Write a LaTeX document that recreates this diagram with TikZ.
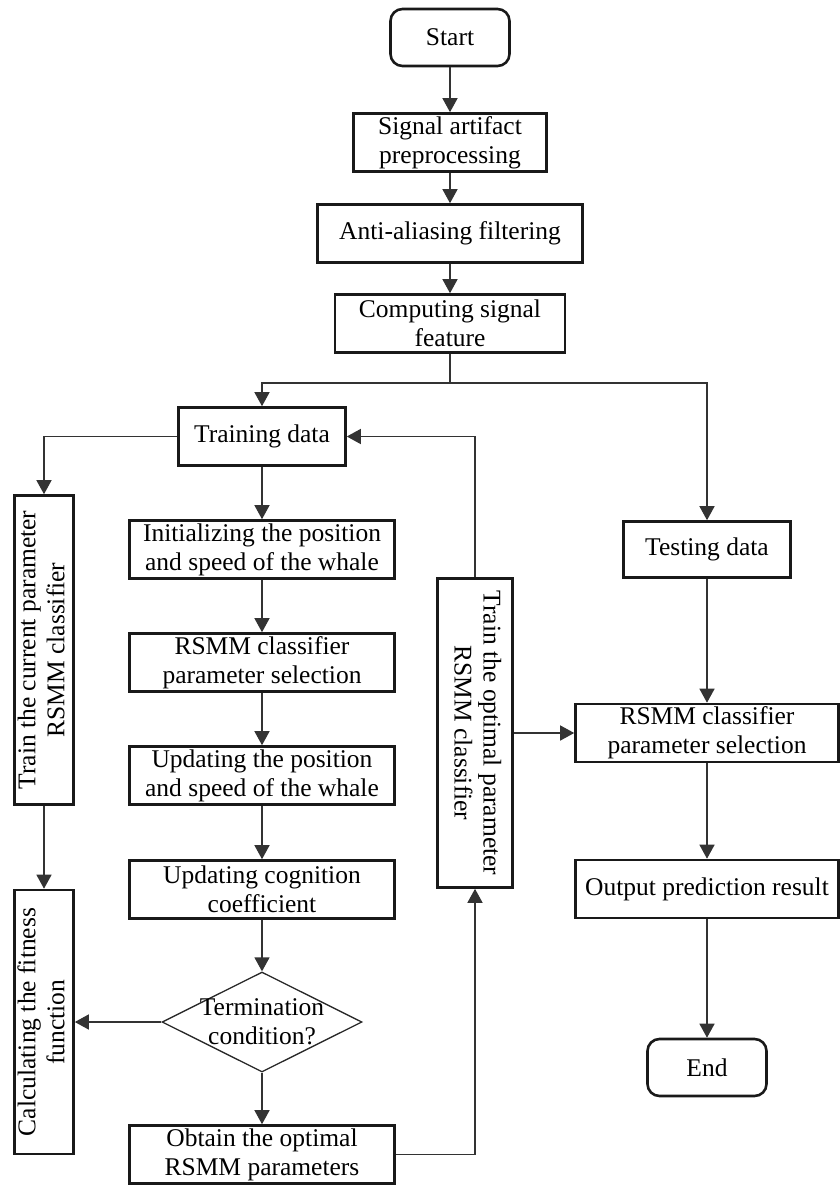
\documentclass[tikz,border=0pt]{standalone}
\usepackage{fontspec}
\setmainfont{Liberation Serif}
\usepackage{graphicx}
\usepackage{tikz}
\usetikzlibrary{arrows.meta}
\usetikzlibrary{shapes,positioning}
\tikzset{>={Triangle[length=14pt,width=15pt]},
  block/.style={draw=black!90, line width=2.6pt, rectangle, inner sep=0pt, align=center},
  midbox/.style={block, minimum width=265pt, minimum height=58pt},
  rightbox/.style={block, minimum width=263pt, minimum height=58pt},
  roundbox/.style={block, rounded corners=12pt, minimum width=119pt, minimum height=57pt},
  decision/.style={diamond, draw=black!85, line width=1.3pt, inner sep=0pt,
    minimum width=200pt, minimum height=100pt},
  link/.style={draw=black!80, line width=1.4pt, ->}}

\begin{document}
\begin{tikzpicture}[x=1pt, y=-1pt, font=\fontsize{25.5}{29}\selectfont]

    \useasboundingbox (0,0) rectangle (839,1188);

	% main column
	\node[roundbox] (start) at (450,37.5) {Start};
	\node[block, minimum width=193pt, minimum height=58pt] (sig) at (450,142.5) {Signal artifact\\preprocessing};
	\node[midbox] (anti) at (450,233.5) {Anti-aliasing filtering};
	\node[block, minimum width=230pt, minimum height=58pt] (comp) at (450,323.5) {Computing signal\\feature};
	\coordinate (split) at (450,383);

	% training side
	\node[block, minimum width=167pt, minimum height=58pt] (train) at (262,436.5) {Training data};
	\node[midbox] (init) at (262,549.5) {Initializing the position\\and speed of the whale};
	\node[midbox] (sel) at (262,662.5) {RSMM classifier\\parameter selection};
	\node[midbox] (upd) at (262,775.5) {Updating the position\\and speed of the whale};
	\node[midbox] (cog) at (262,889.5) {Updating cognition\\coefficient};
	\node[decision, label={[align=center]center:Termination\\condition?}] (term) at (262,1022) {};
	\node[midbox] (opt) at (262,1154.5) {Obtain the optimal\\RSMM parameters};

	\node[block, minimum width=59pt, minimum height=309pt] (cur) at (44,650)
	    {\rotatebox{90}{\begin{tabular}{@{}c@{}}Train the current parameter\\RSMM classifier\end{tabular}}};
	\node[block, minimum width=59pt, minimum height=264pt] (fit) at (44,1022)
	    {\rotatebox{90}{\begin{tabular}{@{}c@{}}Calculating the fitness\\function\end{tabular}}};
	\node[block, minimum width=75pt, minimum height=309pt] (best) at (475,733)
	    {\rotatebox{-90}{\begin{tabular}{@{}c@{}}Train the optimal parameter\\RSMM classifier\end{tabular}}};

	% testing side
	\node[block, minimum width=167pt, minimum height=56pt] (test) at (707,549.5) {Testing data};
	\node[rightbox] (sel2) at (707,733) {RSMM classifier\\parameter selection};
	\node[rightbox] (out) at (707,889) {Output prediction result};
	\node[roundbox] (end) at (707,1067.5) {End};


    \draw[link] (start) -- (sig);
    \draw[link] (sig) -- (anti);
    \draw[link] (anti) -- (comp);
    \draw[draw=black!80, line width=1.4pt] (comp.south) -- (split);
    \draw[link] (split) -| (train.north);
    \draw[link] (split) -| (test.north);

    \draw[link] (train.west) -| (cur.north);
    \draw[link] (cur) -- (fit);
    \draw[link] (train) -- (init);
    \draw[link] (init) -- (sel);
    \draw[link] (sel) -- (upd);
    \draw[link] (upd) -- (cog);
    \draw[link] (cog) -- (term);
    \draw[link] (term) -- (opt);
    \draw[link] (term.west) -- (fit.east);
    \draw[link] (opt.east) -| (best.south);
    \draw[link] (best.north) |- (train.east);
    \draw[link] (best) -- (sel2);

    \draw[link] (test) -- (sel2);
    \draw[link] (sel2) -- (out);
    \draw[link] (out) -- (end);

\end{tikzpicture}
\end{document}
